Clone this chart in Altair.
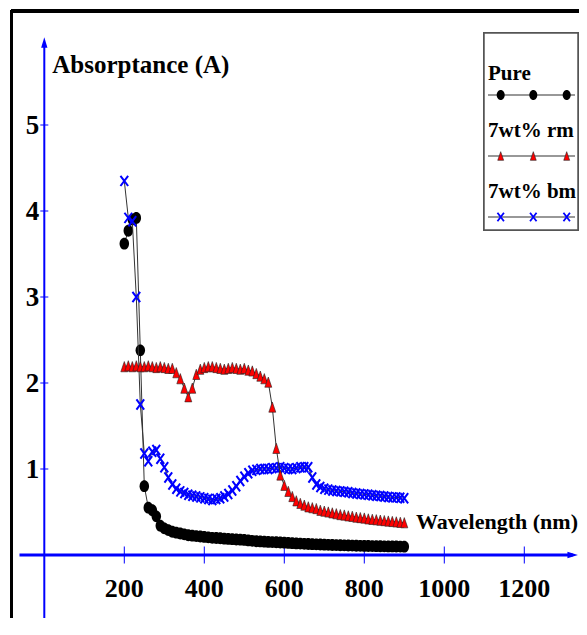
import altair as alt
import pandas as pd

# ---------------- data ----------------
WAVELENGTH = list(range(200, 910, 10))  # nm, 71 points

PURE = [
    3.62, 3.77, 3.90, 3.92, 2.38, 0.80, 0.55, 0.52, 0.45, 0.34,   # 200-290
    0.31, 0.29, 0.27, 0.26, 0.25, 0.24, 0.23, 0.225, 0.22, 0.215,  # 300-390
    0.21, 0.205, 0.20, 0.198, 0.195, 0.19, 0.187, 0.184, 0.18, 0.178,  # 400-490
    0.175, 0.17, 0.165, 0.16, 0.158, 0.155, 0.152, 0.15, 0.148, 0.145,  # 500-590
    0.143, 0.14, 0.138, 0.135, 0.133, 0.13, 0.128, 0.126, 0.124, 0.122,  # 600-690
    0.12, 0.118, 0.116, 0.115, 0.113, 0.112, 0.11, 0.109, 0.108, 0.107,  # 700-790
    0.106, 0.105, 0.104, 0.103, 0.102, 0.101, 0.10, 0.10, 0.099, 0.098,  # 800-890
    0.097,  # 900
]

RM = [
    2.19, 2.20, 2.19, 2.20, 2.19, 2.19, 2.20, 2.19, 2.18, 2.19,
    2.18, 2.17, 2.17, 2.12, 2.05, 1.94, 1.84, 1.94, 2.10, 2.16,
    2.18, 2.19, 2.19, 2.18, 2.17, 2.16, 2.17, 2.18, 2.17, 2.16,
    2.17, 2.15, 2.14, 2.11, 2.08, 2.05, 2.01, 1.72, 1.24, 0.93,
    0.81, 0.74, 0.68, 0.63, 0.60, 0.58, 0.56, 0.55, 0.54, 0.52,
    0.51, 0.50, 0.49, 0.48, 0.47, 0.465, 0.455, 0.45, 0.44, 0.435,
    0.43, 0.42, 0.415, 0.41, 0.405, 0.40, 0.395, 0.39, 0.385, 0.38,
    0.375,
]

BM = [
    4.35, 3.92, 3.88, 3.00, 1.75, 1.18, 1.09, 1.20, 1.22, 1.12,
    1.02, 0.90, 0.82, 0.77, 0.74, 0.72, 0.70, 0.69, 0.68, 0.67,
    0.66, 0.65, 0.64, 0.65, 0.66, 0.68, 0.71, 0.75, 0.80, 0.86,
    0.91, 0.95, 0.98, 0.99, 1.00, 1.00, 1.00, 1.01, 1.01, 1.02,
    1.01, 1.00, 1.00, 1.01, 1.02, 1.02, 1.02, 0.90, 0.82, 0.79,
    0.77, 0.76, 0.75, 0.745, 0.74, 0.735, 0.73, 0.72, 0.715, 0.71,
    0.705, 0.70, 0.695, 0.69, 0.685, 0.68, 0.675, 0.67, 0.67, 0.665,
    0.66,
]

SERIES_NAMES = ["Pure", "7wt% rm", "7wt% bm"]
X_TICKS = [200, 400, 600, 800, 1000, 1200]
Y_TICKS = [1, 2, 3, 4, 5]
X_TITLE = "Wavelength (nm)"
Y_TITLE = "Absorptance (A)"

# ---------------- layout / style ----------------
W, H = 571, 610
X_DOMAIN = [-90.75, 1336.75]
Y_DOMAIN = [-0.7326, 6.3605]
X_AXIS_EXTENT = [-62, 1321]
Y_AXIS_EXTENT = [-0.78, 5.96]
FONT = "Liberation Serif"
BLUE = "#0000ff"

xs = alt.Scale(domain=X_DOMAIN, nice=False, zero=False)
ys = alt.Scale(domain=Y_DOMAIN, nice=False, zero=False)

ELLIPSE = "M0,-1A0.8,1 0 1,1 0,1A0.8,1 0 1,1 0,-1Z"
TRIANGLE = "M0,-1L0.68,1L-0.68,1Z"
XMARK = "M-0.75,-1L0.75,1M-0.75,1L0.75,-1"
ARROW_UP = "M0,-1L0.6,1L-0.6,1Z"
ARROW_RIGHT = "M1,0L-1,0.6L-1,-0.6Z"

df = pd.DataFrame({"wl": WAVELENGTH, "pure": PURE, "rm": RM, "bm": BM})


def X(field="wl"):
    return alt.X(f"{field}:Q", scale=xs, axis=None)


def Y(field):
    return alt.Y(f"{field}:Q", scale=ys, axis=None)


layers = []

# frame
layers.append(alt.Chart(df).mark_rule(color="black", strokeWidth=3).encode(
    x=alt.value(3), x2=alt.value(W), y=alt.value(3)))
layers.append(alt.Chart(df).mark_rule(color="black", strokeWidth=2).encode(
    x=alt.value(3.7), y=alt.value(2), y2=alt.value(H)))

# axes lines
axx = pd.DataFrame({"x0": [X_AXIS_EXTENT[0]], "x1": [X_AXIS_EXTENT[1]], "y0": [0],
                    "ya": [Y_AXIS_EXTENT[0]], "yb": [Y_AXIS_EXTENT[1]], "xz": [0]})
layers.append(alt.Chart(axx).mark_rule(color=BLUE, strokeWidth=3).encode(
    x=X("x0"), x2="x1:Q", y=Y("y0")))
layers.append(alt.Chart(axx).mark_rule(color=BLUE, strokeWidth=2).encode(
    x=X("xz"), y=Y("ya"), y2="yb:Q"))
layers.append(alt.Chart(axx).mark_point(shape=ARROW_RIGHT, filled=True, color=BLUE,
                                        size=110, opacity=1).encode(
    x=X("x1"), y=Y("y0")))
layers.append(alt.Chart(axx).mark_point(shape=ARROW_UP, filled=True, color=BLUE,
                                        size=110, opacity=1).encode(
    x=X("xz"), y=Y("yb")))

# ticks
xt = pd.DataFrame({"v": X_TICKS, "z": [0] * len(X_TICKS),
                   "lab": [str(v) for v in X_TICKS]})
yt = pd.DataFrame({"v": Y_TICKS, "z": [0] * len(Y_TICKS),
                   "lab": [str(v) for v in Y_TICKS]})
layers.append(alt.Chart(xt).mark_tick(orient="vertical", size=17, thickness=1,
                                      color=BLUE, opacity=1).encode(
    x=X("v"), y=Y("z")))
layers.append(alt.Chart(yt).mark_tick(orient="horizontal", size=8, thickness=1,
                                      color=BLUE, opacity=1).encode(
    x=X("z"), y=Y("v")))
layers.append(alt.Chart(xt).mark_text(font=FONT, fontSize=26, fontWeight="bold",
                                      color="black", align="center",
                                      baseline="middle", dy=34).encode(
    x=X("v"), y=Y("z"), text="lab:N"))
layers.append(alt.Chart(yt).mark_text(font=FONT, fontSize=27, fontWeight="bold",
                                      color="black", align="right",
                                      baseline="middle", dx=-5, dy=1).encode(
    x=X("z"), y=Y("v"), text="lab:N"))

# axis titles
tt = pd.DataFrame({"t": [Y_TITLE], "z": [0], "y": [5.70]})
layers.append(alt.Chart(tt).mark_text(font=FONT, fontSize=25, fontWeight="bold",
                                      color="black", align="left",
                                      baseline="middle", dx=8).encode(
    x=X("z"), y=Y("y"), text="t:N"))
tx = pd.DataFrame({"t": [X_TITLE], "z": [0]})
layers.append(alt.Chart(tx).mark_text(font=FONT, fontSize=22, fontWeight="bold",
                                      color="black", align="right",
                                      baseline="middle", dy=-33).encode(
    x=alt.value(W - 1), y=Y("z"), text="t:N"))

# series
LINE = dict(color="#333333", strokeWidth=1)
layers.append(alt.Chart(df).mark_line(**LINE).encode(x=X(), y=Y("pure")))
layers.append(alt.Chart(df).mark_point(shape=ELLIPSE, filled=True, color="black",
                                       size=140, opacity=1).encode(x=X(), y=Y("pure")))
layers.append(alt.Chart(df).mark_line(**LINE).encode(x=X(), y=Y("bm")))
layers.append(alt.Chart(df).mark_point(shape=XMARK, filled=False, color=BLUE,
                                       strokeWidth=2, size=105, opacity=1).encode(
    x=X(), y=Y("bm")))
layers.append(alt.Chart(df).mark_line(**LINE).encode(x=X(), y=Y("rm")))
layers.append(alt.Chart(df).mark_point(shape=TRIANGLE, filled=True, fill="#ff0000",
                                       stroke="#222222", strokeWidth=0.6,
                                       size=105, opacity=1).encode(
    x=X(), y=Y("rm")))

# legend (custom, label above a marker line)
LEG_BOX = (476, 25, 570, 222)
layers.append(alt.Chart(df).mark_rect(fill="white", stroke="#555555",
                                      strokeWidth=1.5).encode(
    x=alt.value(LEG_BOX[0]), x2=alt.value(LEG_BOX[2]),
    y=alt.value(LEG_BOX[1]), y2=alt.value(LEG_BOX[3])))
leg_base = [72, 128.5, 190]
leg_line = [87, 148, 209]
leg_mx = [492.7, 525.3, 558.7]
leg_style = [
    dict(shape=ELLIPSE, filled=True, color="black", size=100),
    dict(shape=TRIANGLE, filled=True, fill="#ff0000", stroke="#222222",
         strokeWidth=0.6, size=75),
    dict(shape=XMARK, filled=False, color=BLUE, strokeWidth=1.8, size=75),
]
for name, b, ly, st in zip(SERIES_NAMES, leg_base, leg_line, leg_style):
    ld = pd.DataFrame({"t": [name]})
    layers.append(alt.Chart(ld).mark_text(font=FONT, fontSize=21, fontWeight="bold",
                                          color="black", align="left",
                                          baseline="alphabetic").encode(
        x=alt.value(480), y=alt.value(b), text="t:N"))
    layers.append(alt.Chart(ld).mark_rule(color="#333333", strokeWidth=1.2).encode(
        x=alt.value(480), x2=alt.value(567), y=alt.value(ly)))
    for mx in leg_mx:
        layers.append(alt.Chart(ld).mark_point(opacity=1, **st).encode(
            x=alt.value(mx), y=alt.value(ly)))

chart = alt.layer(*layers).properties(
    width=W, height=H,
    autosize=alt.AutoSizeParams(type="none"),
    padding=0,
).configure_view(stroke=None)

chart.save("out.html", embed_options={"renderer": "svg", "actions": False})
